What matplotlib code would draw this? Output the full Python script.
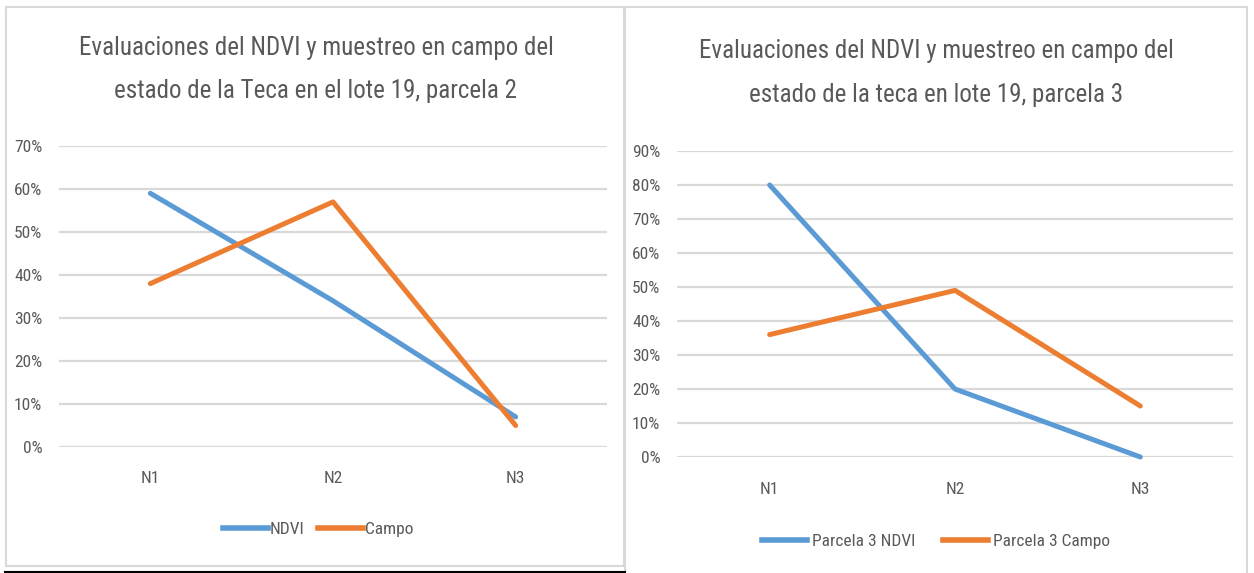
import matplotlib
matplotlib.use("Agg")
import matplotlib.pyplot as plt
from matplotlib import font_manager
from matplotlib.patches import Rectangle
from matplotlib.lines import Line2D
from matplotlib.ticker import FuncFormatter

categories = ["N1", "N2", "N3"]
p2_ndvi = [0.59, 0.34, 0.07]
p2_campo = [0.38, 0.57, 0.05]
p3_ndvi = [0.80, 0.20, 0.00]
p3_campo = [0.36, 0.49, 0.15]

title_left = "Evaluaciones del NDVI y muestreo en campo del\nestado de la Teca en el lote 19, parcela 2"
title_right = "Evaluaciones del NDVI y muestreo en campo del\nestado de la teca en lote 19, parcela 3"
legend_left = ["NDVI", "Campo"]
legend_right = ["Parcela 3 NDVI", "Parcela 3 Campo"]

# pick a condensed sans face if one is installed
fam = None
stretch = "normal"
names = {f.name for f in font_manager.fontManager.ttflist}
for cand in ["Liberation Sans Narrow", "Roboto Condensed", "Open Sans Condensed",
             "Noto Sans Condensed", "Noto Sans Display Condensed", "DejaVu Sans Condensed"]:
    if cand in names:
        fam = cand
        break
if fam is None:
    for f in font_manager.fontManager.ttflist:
        st = f.stretch
        is_cond = (isinstance(st, str) and "condensed" in st.lower() and "semi" not in st.lower()) or \
                  (isinstance(st, (int, float)) and st <= 400)
        if is_cond and "Sans" in f.name and "Mono" not in f.name and "CJK" not in f.name:
            fam = f.name
            stretch = "condensed"
            break
narrow = fam is not None
if fam is None:
    fam = "Roboto"
plt.rcParams["font.family"] = [fam, "DejaVu Sans"]
plt.rcParams["font.stretch"] = stretch

W, H = 1254, 573
fig = plt.figure(figsize=(W / 100, H / 100), dpi=100)
fig.patch.set_facecolor("white")

BLUE = "#5b9bd5"
ORANGE = "#ed7d31"
TXT = "#595959"
GRID = "#d9d9d9"
TS = 18 if narrow else 16
LS = 12.5 if narrow else 11


def px_axes(x0, x1, y_top, y_bot):
    return fig.add_axes([x0 / W, 1 - y_bot / H, (x1 - x0) / W, (y_bot - y_top) / H])


def style(ax, ymax, xpad):
    ax.set_xlim(-0.5, 2.5)
    ax.set_ylim(0, ymax)
    ax.set_yticks([i / 10 for i in range(int(round(ymax * 10)) + 1)])
    ax.yaxis.set_major_formatter(FuncFormatter(lambda v, p: f"{v*100:.0f}%"))
    ax.set_xticks(range(len(categories)))
    ax.set_xticklabels(categories)
    for s in ax.spines.values():
        s.set_visible(False)
    ax.grid(axis="y", color=GRID, lw=1.6)
    ax.set_axisbelow(True)
    ax.tick_params(axis="both", length=0, colors=TXT, labelsize=LS)
    ax.tick_params(axis="x", pad=xpad)
    ax.tick_params(axis="y", pad=12)
    ax.patch.set_alpha(0)


kw = dict(lw=3.6, solid_capstyle="round", solid_joinstyle="round", clip_on=False)

# left chart
ax1 = px_axes(59, 607, 146, 447)
style(ax1, 0.7, 17)
ax1.plot(range(3), p2_ndvi, color=BLUE, **kw)
ax1.plot(range(3), p2_campo, color=ORANGE, **kw)

# right chart
ax2 = px_axes(677, 1233, 151, 457)
style(ax2, 0.9, 18)
ax2.plot(range(3), p3_ndvi, color=BLUE, **kw)
ax2.plot(range(3), p3_campo, color=ORANGE, **kw)

# titles
fig.text(316 / W, 1 - 70 / H, title_left, ha="center", va="center", fontsize=TS,
         color=TXT, linespacing=2.0)
fig.text(936 / W, 1 - 73 / H, title_right, ha="center", va="center", fontsize=TS,
         color=TXT, linespacing=2.05)

# legends
h = [Line2D([], [], color=BLUE, lw=4), Line2D([], [], color=ORANGE, lw=4)]
fig.legend(h, legend_left, loc="center", bbox_to_anchor=(318 / W, 1 - 529 / H), ncol=2,
           frameon=False, fontsize=LS, labelcolor=TXT, handlelength=2.6, handletextpad=0.1,
           columnspacing=0.8)
fig.legend(h, legend_right, loc="center", bbox_to_anchor=(936 / W, 1 - 541 / H), ncol=2,
           frameon=False, fontsize=LS, labelcolor=TXT, handlelength=2.6, handletextpad=0.3,
           columnspacing=1.6)

# panel borders
fig.patches.append(Rectangle((6 / W, 1 - 566 / H), (624 - 6) / W, (566 - 7) / H,
                             transform=fig.transFigure, fill=False, ec=GRID, lw=1.5))
fig.patches.append(Rectangle((625 / W, 1 - 580 / H), (1247 - 625) / W, (580 - 7) / H,
                             transform=fig.transFigure, fill=False, ec=GRID, lw=1.5))
fig.add_artist(Line2D([5 / W, 625 / W], [1 - 572 / H, 1 - 572 / H], color="black", lw=1.5,
                      transform=fig.transFigure))

fig.savefig("out.png", dpi=100)
